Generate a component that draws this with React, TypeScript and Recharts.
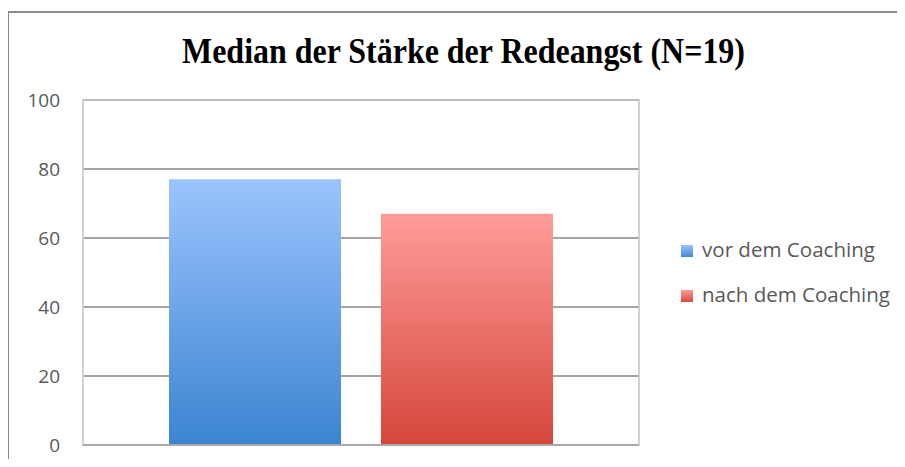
import React from "react";
import {
  BarChart,
  Bar,
  XAxis,
  YAxis,
  CartesianGrid,
  ReferenceArea,
  ReferenceLine,
} from "recharts";

const title = "Median der Stärke der Redeangst (N=19)";
const categories = ["Median"];
const seriesNames = ["vor dem Coaching", "nach dem Coaching"];
const vorValues = [77];
const nachValues = [67];
const yTicks = [0, 20, 40, 60, 80, 100];

const data = categories.map((c, i) => ({
  name: c,
  vor: vorValues[i],
  nach: nachValues[i],
}));

const legendItems = [
  { name: seriesNames[0], grad: "lgBlue", len: 173 },
  { name: seriesNames[1], grad: "lgRed", len: 188 },
];

const LegendContent = () => (
  <svg width={229} height={80} style={{ display: "block" }}>
    <defs>
      <linearGradient id="lgBlue" x1="0" y1="0" x2="0" y2="1">
        <stop offset="0%" stopColor="#9cc4fe" />
        <stop offset="100%" stopColor="#3f86d2" />
      </linearGradient>
      <linearGradient id="lgRed" x1="0" y1="0" x2="0" y2="1">
        <stop offset="0%" stopColor="#ff9c99" />
        <stop offset="100%" stopColor="#d6483d" />
      </linearGradient>
    </defs>
    {legendItems.map((it, i) => (
      <g key={it.name} transform={`translate(0, ${i * 45})`}>
        <rect x={5} y={9} width={12} height={12} fill={`url(#${it.grad})`} />
        <text
          x={26}
          y={21}
          fontFamily="'Open Sans', sans-serif"
          fontSize={19.5}
          fill="#595959"
          textLength={it.len}
          lengthAdjust="spacingAndGlyphs"
        >
          {it.name}
        </text>
      </g>
    ))}
  </svg>
);

const YTick = (props: any) => {
  const { x, y, payload } = props;
  return (
    <text
      x={x}
      y={y}
      dy="0.36em"
      textAnchor="end"
      fontFamily="'Open Sans', sans-serif"
      fontSize={19}
      fill="#595959"
    >
      {payload.value}
    </text>
  );
};

export default function App() {
  return (
    <div
      style={{
        position: "relative",
        margin: -8,
        width: 905,
        height: 467,
        overflow: "hidden",
        background: "#ffffff",
      }}
    >
      <div
        style={{
          position: "absolute",
          left: 7,
          top: 11,
          width: 1000,
          height: 1000,
          borderLeft: "2px solid #8a8a8a",
          borderTop: "2px solid #8a8a8a",
        }}
      />
      <svg
        width={905}
        height={95}
        style={{ position: "absolute", left: 0, top: 0, pointerEvents: "none" }}
      >
        <text
          x={463.5}
          y={63}
          textAnchor="middle"
          fontFamily="'Liberation Serif', 'Times New Roman', serif"
          fontWeight="bold"
          fontSize={35}
          fill="#000000"
          textLength={563}
          lengthAdjust="spacingAndGlyphs"
        >
          {title}
        </text>
      </svg>
      <div style={{ position: "absolute", left: 0, top: 0 }}>
        <BarChart
          width={905}
          height={467}
          data={data}
          margin={{ top: 100, right: 266, bottom: 22, left: 0 }}
          barCategoryGap={86}
          barGap={40}
        >
          <defs>
            <linearGradient id="gradBlue" x1="0" y1="0" x2="0" y2="1">
              <stop offset="0%" stopColor="#9cc4fe" />
              <stop offset="100%" stopColor="#3b84d1" />
            </linearGradient>
            <linearGradient id="gradRed" x1="0" y1="0" x2="0" y2="1">
              <stop offset="0%" stopColor="#ff9c99" />
              <stop offset="100%" stopColor="#d5463b" />
            </linearGradient>
          </defs>
          <CartesianGrid horizontal vertical={false} stroke="#878787" strokeWidth={1.5} />
          <ReferenceArea
            y1={0}
            y2={100}
            fill="none"
            stroke="#c3c3c3"
            strokeWidth={1.5}
            ifOverflow="visible"
          />
          <XAxis dataKey="name" hide />
          <YAxis
            width={83}
            domain={[0, 100]}
            ticks={yTicks}
            axisLine={false}
            tickLine={false}
            tickSize={0}
            tickMargin={23}
            tick={<YTick />}
            interval={0}
          />
          <Bar
            dataKey="vor"
            name={seriesNames[0]}
            fill="url(#gradBlue)"
            isAnimationActive={false}
          />
          <Bar
            dataKey="nach"
            name={seriesNames[1]}
            fill="url(#gradRed)"
            isAnimationActive={false}
          />
          <ReferenceLine y={0} stroke="#a9a9a9" strokeWidth={2} ifOverflow="visible" />
        </BarChart>
      </div>
      <div style={{ position: "absolute", left: 676, top: 236 }}>
        <LegendContent />
      </div>
    </div>
  );
}
